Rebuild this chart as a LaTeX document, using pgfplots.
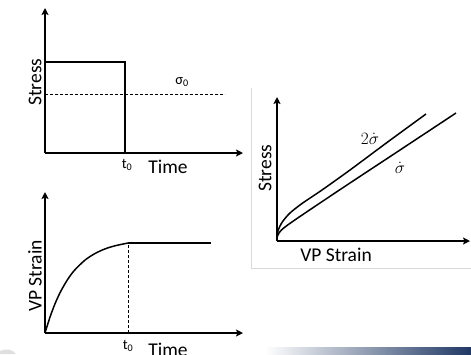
\documentclass[border=0pt]{standalone}
\usepackage{pgfplots}
\pgfplotsset{compat=1.18}
\usepackage{fontspec}
\setmainfont{Carlito}
\usetikzlibrary{arrows.meta}

\pgfplotsset{
  sketch/.style={
    scale only axis,
    axis lines=left,
    enlargelimits=false,
    clip=false,
    xtick=\empty, ytick=\empty,
    axis line style={line width=1.6pt, -{Stealth[length=7pt,width=7pt,inset=1.5pt]}},
  },
  curve/.style={black, line width=1.5pt, no marks},
  guide/.style={black, line width=0.7pt, dash pattern=on 3pt off 2pt, no marks},
}
\newcommand{\lab}{\fontsize{19.5}{21}\selectfont}
\newcommand{\sm}{\fontsize{14.5}{16}\selectfont}
\newcommand{\mth}{\fontsize{17}{18}\selectfont}

\begin{document}
\begin{tikzpicture}
\useasboundingbox (0pt,0pt) rectangle (471pt,-354pt);

% light frame around the stress-strain panel
\draw[gray!30, line width=0.8pt] (251pt,-88pt) -- (251pt,-268pt) -- (471pt,-268pt);

% slide footer bar
\shade[left color=white, right color={rgb,255:red,31;green,56;blue,100}]
  (265pt,-347pt) rectangle (471pt,-354pt);
\fill[gray!25] (0pt,-354pt) -- (0pt,-351pt) .. controls (6pt,-348pt) and (12pt,-349pt) .. (16pt,-354pt) -- cycle;

% ---- stress history: step load up to t0 ----
\begin{axis}[sketch, at={(45pt,-153pt)}, anchor=origin,
  width=198pt, height=145pt, xmin=0, xmax=198, ymin=0, ymax=145]
  \addplot[curve] coordinates {(0,91) (80,91) (80,0)};
  \addplot[guide] coordinates {(0,59) (180,59)};
  \node[rotate=90, font=\lab] at (axis cs:-10,71) {Stress};
  \node[font=\lab] at (axis cs:123,-14) {Time};
  \node[font=\sm] at (axis cs:82,-12) {t\textsubscript{0}};
  \node[font=\sm] at (axis cs:137,71) {σ\textsubscript{0}};
\end{axis}

% ---- viscoplastic strain response ----
\begin{axis}[sketch, at={(45pt,-333pt)}, anchor=origin,
  width=198pt, height=141pt, xmin=0, xmax=198, ymin=0, ymax=141]
  \addplot[curve, smooth] coordinates {
    (0,0) (5,15.9) (10,29.2) (15,40.2) (20,49.3) (25,57.0) (30,63.3)
    (40,72.9) (50,79.5) (60,84.1) (70,87.2) (83,90)};
  \addplot[curve] coordinates {(83,90) (166,90)};
  \addplot[guide] coordinates {(83,0) (83,90)};
  \node[rotate=90, font=\lab] at (axis cs:-10,57) {VP Strain};
  \node[font=\lab] at (axis cs:123,-17) {Time};
  \node[font=\sm] at (axis cs:83,-13) {t\textsubscript{0}};
\end{axis}

% ---- stress vs viscoplastic strain at two loading rates ----
\begin{axis}[sketch, at={(277pt,-241pt)}, anchor=origin,
  width=193pt, height=144pt, xmin=0, xmax=193, ymin=0, ymax=144]
  \addplot[curve, smooth] coordinates {
    (0,4) (1,10) (3,15) (6,20) (13,28) (25,37.5) (45,51) (73,71) (110,98.5) (149,127)};
  \addplot[curve, smooth] coordinates {
    (0,4) (2,8) (5,11.5) (10,15.5) (20,22.5) (40,36) (73,58) (120,89) (179,128)};
  \node[rotate=90, font=\lab] at (axis cs:-12,73) {Stress};
  \node[font=\lab] at (axis cs:59,-14) {VP Strain};
  \node[font=\mth] at (axis cs:93,102) {$2\dot{\sigma}$};
  \node[font=\mth] at (axis cs:123,73) {$\dot{\sigma}$};
\end{axis}
\end{tikzpicture}
\end{document}
